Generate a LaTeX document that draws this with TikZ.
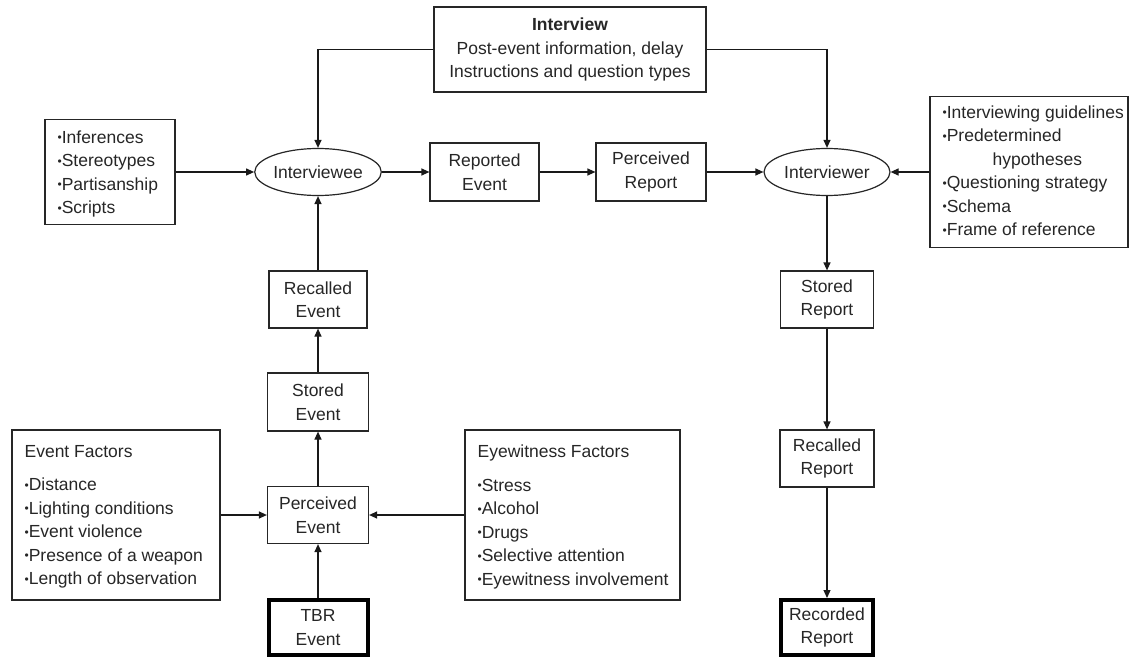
\documentclass[tikz,border=0pt]{standalone}
\usepackage{fontspec}
\setmainfont{Liberation Sans}
\usetikzlibrary{arrows.meta,calc,shapes.geometric}
\newcommand{\dfont}{\fontsize{17.5}{23.5}\selectfont}
\newcommand{\bu}{{\fontsize{12}{12}\selectfont\raisebox{1.6pt}{•}}}
\begin{document}
\begin{tikzpicture}[x=1pt,y=-1pt,
  box/.style={draw=black!85, line width=1.2pt, rectangle, inner sep=0pt, font=\dfont, align=center, text=black!85},
  thickbox/.style={box, line width=4pt, draw=black},
  oval/.style={ellipse, draw=black!85, line width=1.2pt, inner sep=0pt, font=\dfont, text=black!85},
  arr/.style={-{Triangle[length=8pt,width=7pt]}, line width=1.2pt, draw=black!90},
  list/.style={anchor=north west, inner sep=0pt, align=left, font=\dfont, text=black!85}]
\useasboundingbox (0,0) rectangle (1130,658);

% top row
\node[box, minimum width=272, minimum height=85] (interview) at (570,49.5)
  {\textbf{Interview}\\Post-event information, delay\\Instructions and question types};
\node[box, minimum width=130, minimum height=105] (inf) at (110,172) {};
\node[list] (inft) at ($(inf.north west)+(13,11.5)$)
  {\bu Inferences\\\bu Stereotypes\\\bu Partisanship\\\bu Scripts};
\node[oval, minimum width=112, minimum height=47] (ivee) at (318,172) {Interviewee};
\node[box, minimum width=109, minimum height=58] (rep) at (484.5,172) {Reported\\Event};
\node[box, minimum width=110, minimum height=58] (perrep) at (651,172) {Perceived\\Report};
\node[oval, minimum width=126, minimum height=47] (iver) at (827,172) {Interviewer};
\node[box, minimum width=198, minimum height=151] (guide) at (1029,172) {};
\node[list] (guidet) at ($(guide.north west)+(13,9.5)$)
  {\bu Interviewing guidelines\\\bu Predetermined\\\hspace*{50pt}hypotheses\\\bu Questioning strategy\\\bu Schema\\\bu Frame of reference};

% left column
\node[box, minimum width=98, minimum height=57] (rev) at (318,299.5) {Recalled\\Event};
\node[box, minimum width=101, minimum height=58] (sev) at (318,402) {Stored\\Event};
\node[box, minimum width=101, minimum height=57] (pev) at (318,515) {Perceived\\Event};
\node[thickbox, minimum width=99, minimum height=55] (tbr) at (318,627.5) {TBR\\Event};
\node[box, minimum width=208, minimum height=170] (evf) at (116,515) {};
\node[list] (evft) at ($(evf.north west)+(13,15.5)$)
  {Event Factors\\[10pt]\bu Distance\\\bu Lighting conditions\\\bu Event violence\\\bu Presence of a weapon\\\bu Length of observation};
\node[box, minimum width=215, minimum height=170] (eyef) at (572.5,515) {};
\node[list] (eyeft) at ($(eyef.north west)+(13,15.5)$)
  {Eyewitness Factors\\[10pt]\bu Stress\\\bu Alcohol\\\bu Drugs\\\bu Selective attention\\\bu Eyewitness involvement};

% right column
\node[box, minimum width=93, minimum height=57] (srep) at (827,299.5) {Stored\\Report};
\node[box, minimum width=94, minimum height=57] (rrep) at (827,458.5) {Recalled\\Report};
\node[thickbox, minimum width=92, minimum height=55] (recrep) at (827,627.5) {Recorded\\Report};

% connectors
\draw[arr] (interview.west) -| (ivee.north);
\draw[arr] (interview.east) -| (iver.north);
\draw[arr] (inf.east) -- (ivee.west);
\draw[arr] (ivee.east) -- (rep.west);
\draw[arr] (rep.east) -- (perrep.west);
\draw[arr] (perrep.east) -- (iver.west);
\draw[arr] (guide.west) -- (iver.east);
\draw[arr] (iver.south) -- (srep.north);
\draw[arr] (srep.south) -- (rrep.north);
\draw[arr] (rrep.south) -- (recrep.north);
\draw[arr] (tbr.north) -- (pev.south);
\draw[arr] (pev.north) -- (sev.south);
\draw[arr] (sev.north) -- (rev.south);
\draw[arr] (rev.north) -- (ivee.south);
\draw[arr] (evf.east) -- (pev.west);
\draw[arr] (eyef.west) -- (pev.east);
\end{tikzpicture}
\end{document}
